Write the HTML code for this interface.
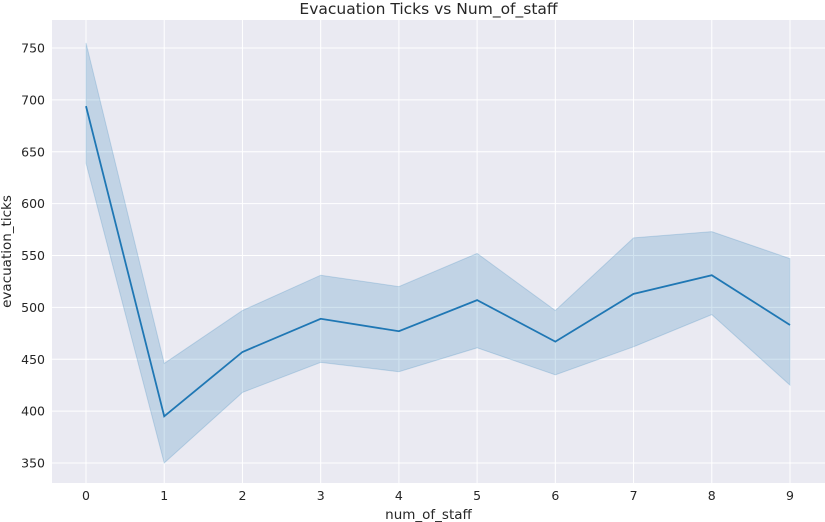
<!DOCTYPE html>
<html><head><meta charset="utf-8"><style>
html,body{margin:0;padding:0;background:#fff;}
svg{display:block;font-family:"DejaVu Sans","Liberation Sans",sans-serif;}
</style></head><body>
<svg id="chart" width="825" height="522"></svg>
<script>
const categories=[0,1,2,3,4,5,6,7,8,9];
const meanValues=[694,395,457,489,477,507,467,513,531,483];
const upperValues=[755,446,497,531,520,552,497,567,573,547];
const lowerValues=[639,350,418,447,438,461,435,462,493,425];
const yTicks=[350,400,450,500,550,600,650,700,750];
const xTicks=[0,1,2,3,4,5,6,7,8,9];

const NS="http://www.w3.org/2000/svg";
const svg=document.getElementById('chart');
const L=52,R=825,T=20,B=483;
const xs=v=>86+(v-0)*(790-86)/9;
const ys=v=>48+(750-v)*(463-48)/400;
function mk(tag,attrs,parent){const e=document.createElementNS(NS,tag);for(const k in attrs)e.setAttribute(k,attrs[k]);(parent||svg).appendChild(e);return e;}

const bg=mk('rect',{x:L,y:T,width:R-L,height:B-T,fill:'#eaeaf2'});



yTicks.forEach(t=>{
  const g=mk('line',{x1:L,x2:R,y1:ys(t),y2:ys(t),stroke:'#fff','stroke-width':1});
  
  
  const tx=mk('text',{x:L-7,y:ys(t)+4.5,'text-anchor':'end','font-size':12.5,fill:'#262626'});
  tx.textContent=t;
  
  
});
xTicks.forEach(t=>{
  const g=mk('line',{x1:xs(t),x2:xs(t),y1:T,y2:B,stroke:'#fff','stroke-width':1});
  
  
  const tx=mk('text',{x:xs(t),y:B+17,'text-anchor':'middle','font-size':12.5,fill:'#262626'});
  tx.textContent=t;
  
  
});

let d='';
categories.forEach((c,i)=>{d+=(i?'L':'M')+xs(c)+','+ys(upperValues[i]);});
for(let i=categories.length-1;i>=0;i--){d+='L'+xs(categories[i])+','+ys(lowerValues[i]);}
d+='Z';
const band=mk('path',{d:d,fill:'#1f77b4','fill-opacity':0.2,stroke:'#1f77b4','stroke-opacity':0.2});



let ld='';
categories.forEach((c,i)=>{ld+=(i?'L':'M')+xs(c)+','+ys(meanValues[i]);});
const line=mk('path',{d:ld,fill:'none',stroke:'#1f77b4','stroke-width':1.8});



const title=mk('text',{x:(L+R)/2-10,y:14,'text-anchor':'middle','font-size':15.5,fill:'#262626'});
title.textContent='Evacuation Ticks vs Num_of_staff';



const xl=mk('text',{x:(L+R)/2-10,y:519,'text-anchor':'middle','font-size':13.5,fill:'#262626'});
xl.textContent='num_of_staff';



const yl=mk('text',{x:0,y:0,'text-anchor':'middle','font-size':13.5,fill:'#262626',transform:'translate(11,'+((T+B)/2)+') rotate(-90)'});
yl.textContent='evacuation_ticks';


</script>
</body></html>
